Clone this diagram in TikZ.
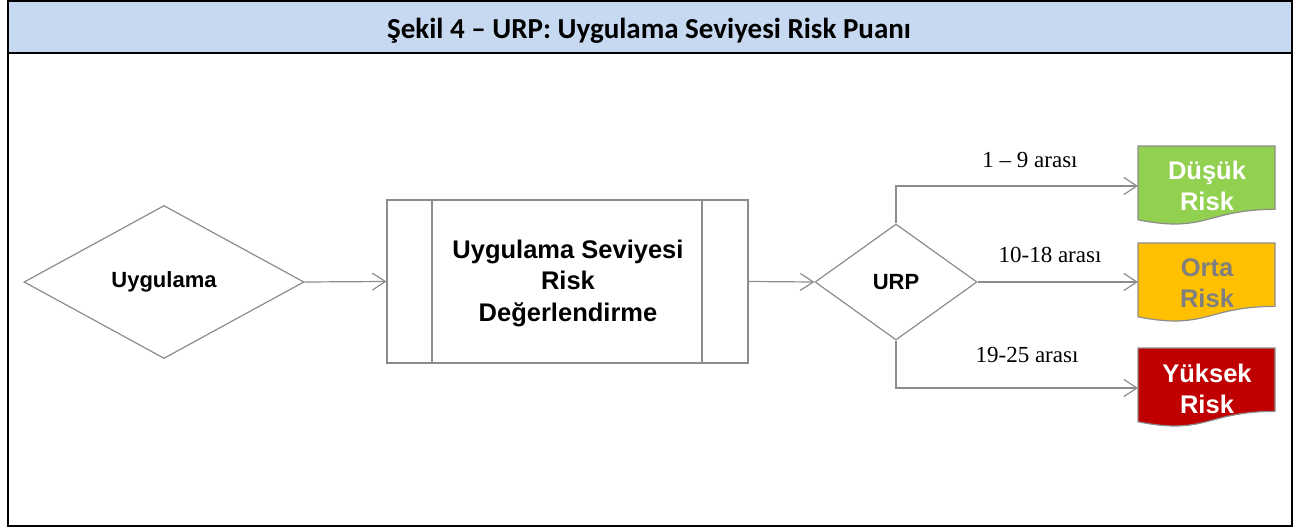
\documentclass[tikz,border=0pt]{standalone}
\usepackage{fontspec}
\setmainfont{Liberation Serif}
\newfontfamily\arialfont{Liberation Sans}
\newfontfamily\calfont{Carlito}
\usetikzlibrary{shapes.geometric,arrows.meta}

\definecolor{headblue}{HTML}{C6D9F1}
\definecolor{linegray}{HTML}{8C8C8C}
\definecolor{lowgreen}{HTML}{92D050}
\definecolor{midorange}{HTML}{FFC000}
\definecolor{highred}{HTML}{C00000}
\definecolor{midtext}{HTML}{7F7F7F}

\tikzset{
  flow/.style={draw=linegray, line width=1.2pt},
  conn/.style={draw=linegray, line width=1.2pt, -{Straight Barb[length=13pt,width=17pt,line width=1.2pt]}},
  decision/.style={diamond, draw=linegray, line width=1.2pt, inner sep=0pt,
    font=\arialfont\bfseries\fontsize{22}{26}\selectfont},
  rangelabel/.style={anchor=base, inner sep=0pt, font=\fontsize{23}{27}\selectfont},
  doclabel/.style={align=center, inner sep=0pt, font=\arialfont\bfseries\fontsize{25.5}{31.5}\selectfont},
}

\begin{document}
\begin{tikzpicture}[x=1pt,y=-1pt]
  \useasboundingbox (0,0) rectangle (1294,527);

  % frame and title band
  \fill[headblue] (7.5,1) rectangle (1292,53);
  \draw[line width=2pt] (7.5,1) rectangle (1292,525.5);
  \draw[line width=2.5pt] (7.5,53) -- (1292,53);
  \node[anchor=base, inner sep=0pt, font=\calfont\bfseries\fontsize{29}{34}\selectfont] (title) at (649,38.5) {Şekil 4 – URP: Uygulama Seviyesi Risk Puanı};

  % input decision
  \node[decision, minimum width=280pt, minimum height=153pt] (app) at (164,282) {Uygulama};

  % predefined process box
  \node[draw=linegray, line width=1.2pt, minimum width=361pt, minimum height=163pt, inner sep=0pt] (proc) at (567.5,281.5) {};
  \draw[flow] (432,200) -- (432,363);
  \draw[flow] (702,200) -- (702,363);
  \node[align=center, inner sep=0pt, font=\arialfont\bfseries\fontsize{25.5}{31.5}\selectfont] (proctext) at (568,283)
    {Uygulama Seviyesi\\Risk\\Değerlendirme};

  % score decision
  \node[decision, minimum width=162pt, minimum height=116pt] (urp) at (896,282) {URP};

  % result documents (wavy bottom edge)
  \def\docw{137}
  \def\doch{79}
  \foreach \nm/\top/\col in {low/146/lowgreen, mid/243/midorange, high/348/highred}{
    \fill[\col, draw=linegray, line width=1.2pt]
      (1138,\top) -- (1138+\docw,\top) -- (1138+\docw,\top+0.802*\doch)
      .. controls (1138+0.5*\docw,\top+0.802*\doch) and (1138+0.5*\docw,\top+1.107*\doch) ..
      (1138,\top+0.934*\doch) -- cycle;
  }
  \node[doclabel, text=white] (low) at (1207,186) {Düşük\\Risk};
  \node[doclabel, text=midtext] (mid) at (1207,283) {Orta\\Risk};
  \node[doclabel, text=white] (high) at (1207,389) {Yüksek\\Risk};

  \coordinate (lowin) at (1138,186);
  \coordinate (midin) at (1138,282);
  \coordinate (highin) at (1138,388);

  % connectors
  \draw[conn] (app.east) -- (proc.west);
  \draw[conn] (proc.east) -- (urp.west);
  \draw[conn] (urp.north) |- (lowin);
  \draw[conn] (urp.east) -- (midin);
  \draw[conn] (urp.south) |- (highin);

  % range labels
  \node[rangelabel] (r1) at (1030,167) {1 – 9 arası};
  \node[rangelabel] (r2) at (1050,262) {10-18 arası};
  \node[rangelabel] (r3) at (1027,362) {19-25 arası};
\end{tikzpicture}
\end{document}
